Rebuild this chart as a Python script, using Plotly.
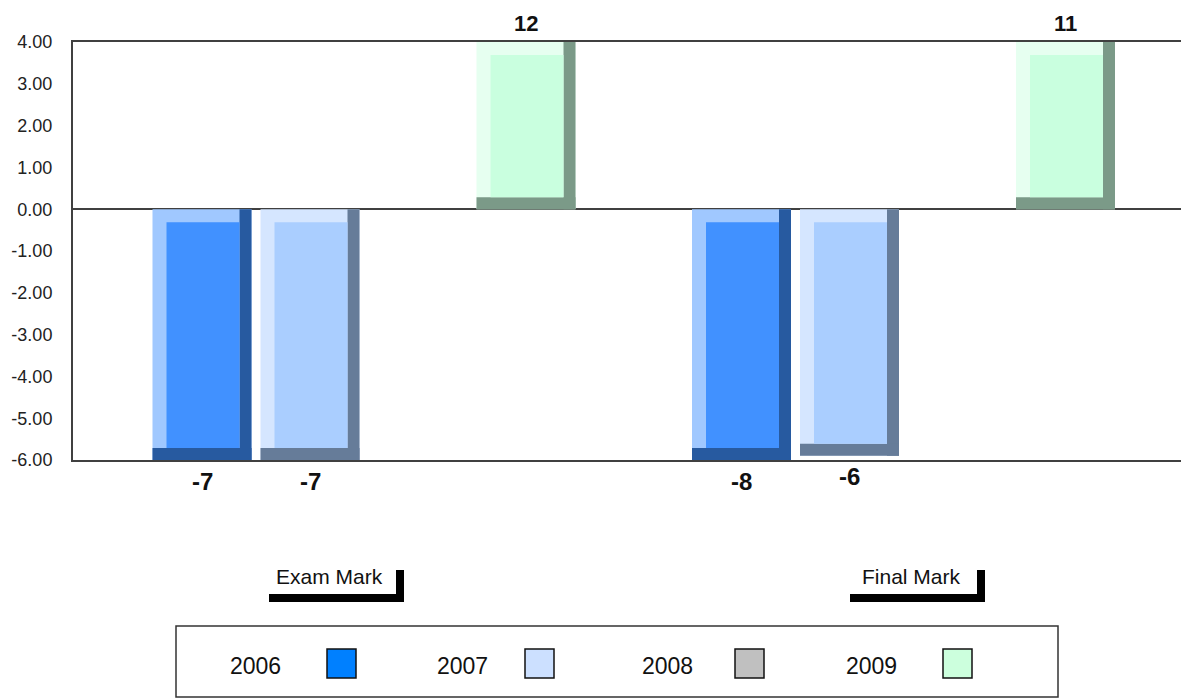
import plotly.graph_objects as go

# ---------------- data ----------------
categories = ["Exam Mark", "Final Mark"]
series_names = ["2006", "2007", "2008", "2009"]
v2006 = [-7, -8]
v2007 = [-7, -5.9]
v2008 = [None, None]
v2009 = [12, 11]
series_values = [v2006, v2007, v2008, v2009]

y_min, y_max, y_step = -6, 4, 1
y_ticks = list(range(y_min, y_max + 1, y_step))
y_tick_text = [f"{t:.2f}" for t in y_ticks]

# ---------------- styles ----------------
face_colors = ["#4191ff", "#aaceff", "#c0c0c0", "#c9ffdf"]
light_colors = ["#a0c8ff", "#d5e6ff", "#e0e0e0", "#e6fff0"]
dark_colors = ["#275aa0", "#667c99", "#808080", "#7b9a88"]
legend_colors = ["#0080ff", "#cce0ff", "#c0c0c0", "#ccffdd"]

PAGE_OFF = 8                        # browser body margin
W, H = 1189, 698
L, T = 73 - PAGE_OFF, 42 - PAGE_OFF
plot_w, plot_h = 1116, 418
R = W - L - plot_w
B = H - T - plot_h
cat_px = 539.5                      # pixels per category
x_lo = -(364 - 73) / cat_px
x_hi = x_lo + plot_w / cat_px
px_per_y = plot_h / (y_max - y_min)

step = 108 / cat_px                 # slot step between bars
bw = 99 / cat_px                    # bar width
group_w = 3 * step + bw
bev_l = 14 / cat_px
bev_r = 12 / cat_px
bev_t = 13 / px_per_y
bev_b = 12 / px_per_y

FONT = "Liberation Sans, Arial, sans-serif"


def px_x(px):
    return (px - PAGE_OFF - L) / plot_w


def px_y(py):
    return (T + plot_h - (py - PAGE_OFF)) / plot_h


fig = go.Figure()

annotations = []
for i, (name, vals) in enumerate(zip(series_names, series_values)):
    off = -group_w / 2 + i * step
    xs, bases, hs = [], [], []
    for j, v in enumerate(vals):
        if v is None:
            continue
        vc = min(max(v, y_min), y_max)
        bottom, top = min(0, vc), max(0, vc)
        xs.append(categories[j])
        bases.append(bottom)
        hs.append(top - bottom)
        annotations.append(dict(x=j + off + bw / 2, y=vc, xref="x", yref="y",
                                text=f"<b>{v:.0f}</b>", showarrow=False,
                                yshift=19 if v >= 0 else -21, borderpad=0,
                                font=dict(family=FONT, size=22 if v >= 0 else 24, color="#111"),
                                yanchor="middle"))
    if not xs:
        continue
    common = dict(showlegend=False, hoverinfo="skip", x=xs)
    fig.add_trace(go.Bar(y=hs, base=bases, offset=off, width=bw,
                         marker=dict(color=light_colors[i], line=dict(width=0)), **common))
    fig.add_trace(go.Bar(y=hs, base=bases, offset=off + bw - bev_r, width=bev_r,
                         marker=dict(color=dark_colors[i], line=dict(width=0)), **common))
    fig.add_trace(go.Bar(y=[bev_b] * len(xs), base=bases, offset=off, width=bw,
                         marker=dict(color=dark_colors[i], line=dict(width=0)), **common))
    fig.add_trace(go.Bar(y=[h - bev_b - bev_t for h in hs], base=[b + bev_b for b in bases],
                         offset=off + bev_l, width=bw - bev_l - bev_r,
                         marker=dict(color=face_colors[i], line=dict(width=0)), **common))

shapes = []

# category labels with bracket decorations (window pixel positions)
cat_label_cx = [329, 911]
bracket_x0 = [269, 850]
bracket_x1 = [404, 985]
for j, cat in enumerate(categories):
    annotations.append(dict(x=px_x(cat_label_cx[j]), y=px_y(576), xref="paper", yref="paper",
                            text=cat, showarrow=False, xanchor="center", yanchor="middle",
                            font=dict(family=FONT, size=21, color="#111")))
    shapes.append(dict(type="rect", xref="paper", yref="paper",
                       x0=px_x(bracket_x0[j]), x1=px_x(bracket_x1[j]),
                       y0=px_y(602), y1=px_y(594), fillcolor="black", line=dict(width=0)))
    shapes.append(dict(type="rect", xref="paper", yref="paper",
                       x0=px_x(bracket_x1[j] - 8), x1=px_x(bracket_x1[j]),
                       y0=px_y(602), y1=px_y(570), fillcolor="black", line=dict(width=0)))

# custom legend
shapes.append(dict(type="rect", xref="paper", yref="paper",
                   x0=px_x(176), x1=px_x(1058), y0=px_y(697), y1=px_y(626),
                   fillcolor="white", line=dict(color="#333", width=1.5)))
legend_text_cx = [255.5, 462, 667.5, 871.5]
legend_sw_x0 = [327, 525, 735, 943]
for i, name in enumerate(series_names):
    annotations.append(dict(x=px_x(legend_text_cx[i]), y=px_y(666), xref="paper", yref="paper",
                            text=name, showarrow=False, xanchor="center", yanchor="middle",
                            font=dict(family=FONT, size=23, color="#111")))
    shapes.append(dict(type="rect", xref="paper", yref="paper",
                       x0=px_x(legend_sw_x0[i]), x1=px_x(legend_sw_x0[i] + 29),
                       y0=px_y(678), y1=px_y(649),
                       fillcolor=legend_colors[i], line=dict(color="#111", width=1.5)))

fig.update_layout(
    template="none",
    width=W, height=H, autosize=False,
    margin=dict(l=L, r=R, t=T, b=B, pad=0, autoexpand=False),
    paper_bgcolor="white", plot_bgcolor="white",
    barmode="overlay",
    showlegend=False,
    annotations=annotations,
    shapes=shapes,
    xaxis=dict(type="category", categoryarray=categories, range=[x_lo, x_hi],
               showticklabels=False, ticks="", showgrid=False, zeroline=False,
               showline=True, mirror=True, linecolor="#404040", linewidth=2,
               layer="below traces", fixedrange=True, automargin=False),
    yaxis=dict(range=[y_min, y_max], tickmode="array", tickvals=y_ticks, ticktext=y_tick_text,
               showgrid=False, zeroline=True, zerolinecolor="#404040", zerolinewidth=2,
               showline=True, linecolor="#404040", linewidth=2, ticks="",
               ticklabelstandoff=15, layer="below traces", automargin=False,
               tickfont=dict(family=FONT, size=18, color="#222"), fixedrange=True),
)

fig.write_html("out.html")
